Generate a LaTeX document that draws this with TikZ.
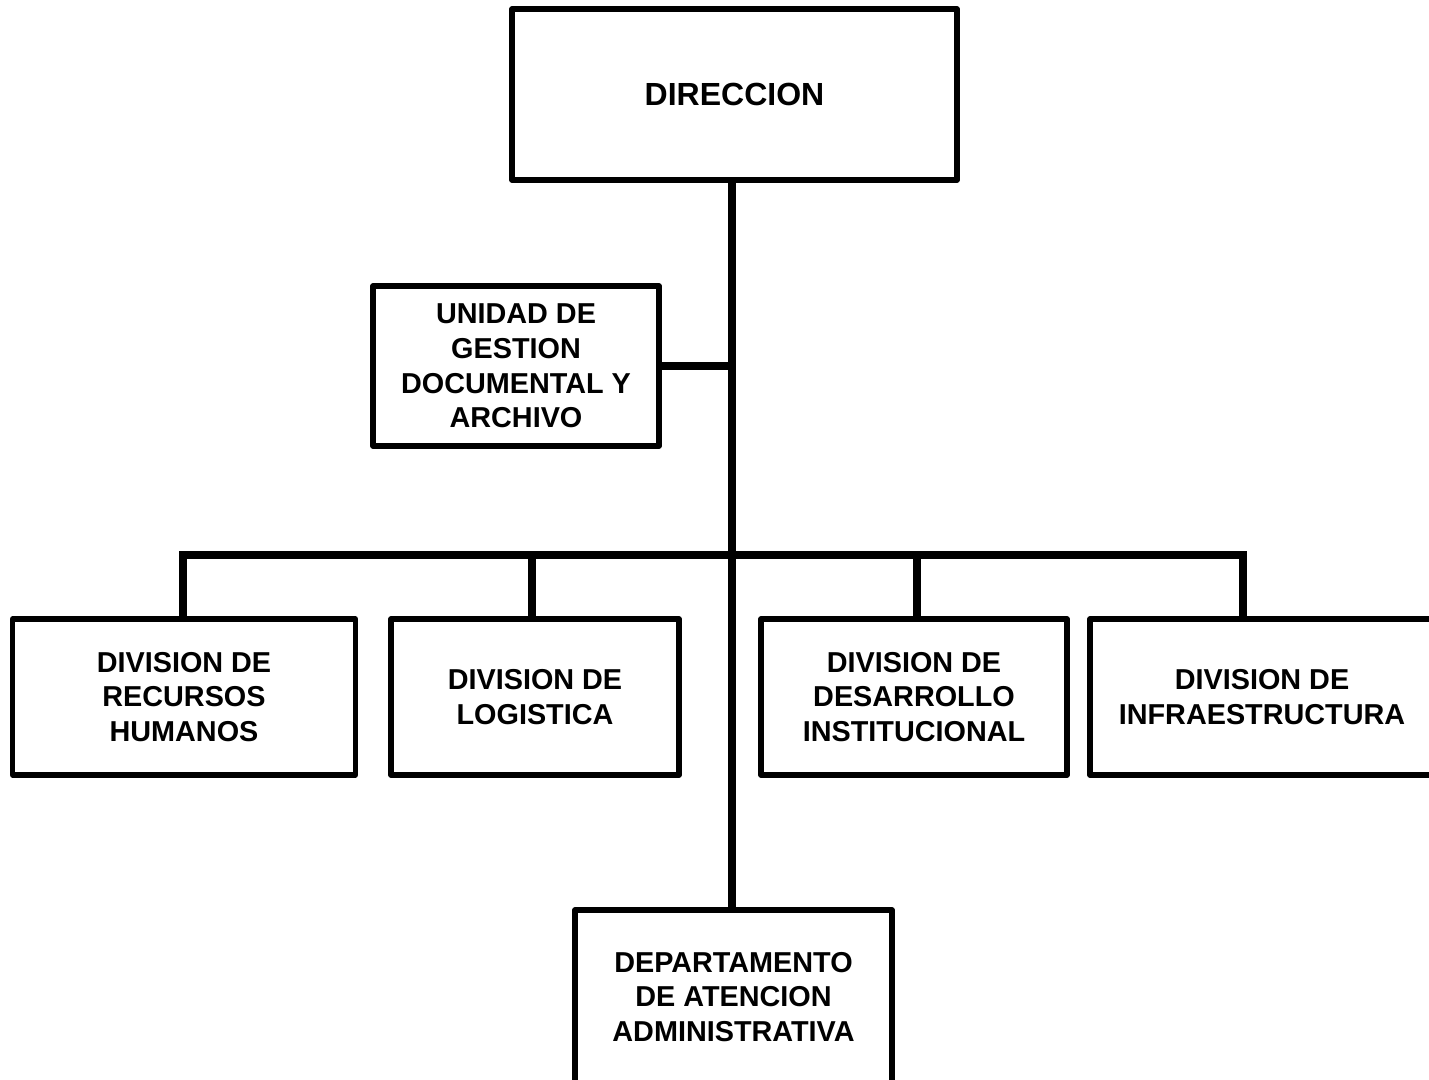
\documentclass[tikz,border=0pt]{standalone}
\usepackage{fontspec}
\setmainfont{Liberation Sans}
\begin{document}
\begin{tikzpicture}[x=0.5pt,y=-0.5pt,
  box/.style={draw=black,line width=2.6pt,line join=round,rectangle,inner sep=0pt,outer sep=0pt,
    align=center,font=\fontsize{14.4}{17.3}\selectfont\bfseries},
  conn/.style={draw=black,line width=4.2pt,line join=miter,line cap=butt}]
\useasboundingbox (0,0) rectangle (1429,1080);
\clip (0,0) rectangle (1429,1080);
\fill[white] (0,0) rectangle (1429,1080);
% nodes
\node[box,minimum width=222.5pt,minimum height=85.5pt,font=\fontsize{16}{19}\selectfont\bfseries] (dir) at (734.5,94.5) {DIRECCION};
\node[box,minimum width=143pt,minimum height=80pt] (uni) at (516,366) {UNIDAD DE\\GESTION\\DOCUMENTAL Y\\ARCHIVO};
\node[box,minimum width=171.5pt,minimum height=78pt] (rrhh) at (184,697) {DIVISION DE\\RECURSOS\\HUMANOS};
\node[box,minimum width=144pt,minimum height=78pt] (log) at (535,697) {DIVISION DE\\LOGISTICA};
\node[box,minimum width=153pt,minimum height=78pt] (des) at (914,697) {DIVISION DE\\DESARROLLO\\INSTITUCIONAL};
\node[box,minimum width=172pt,minimum height=78pt] (inf) at (1262,697) {DIVISION DE\\INFRAESTRUCTURA};
\node[box,minimum width=158.5pt,minimum height=87pt] (dep) at (733.5,997) {DEPARTAMENTO\\DE ATENCION\\ADMINISTRATIVA};
% helper coordinates
\coordinate (sp) at (732,0);
\coordinate (d1) at (183,555);
\coordinate (d2) at (532,555);
\coordinate (d3) at (917,555);
\coordinate (d4) at (1243,555);
% connectors
\draw[conn] (dir.south -| sp) -- (dep.north -| sp);
\draw[conn] (uni.east) -- (uni.east -| sp);
\draw[conn] (rrhh.north -| d1) -- (d1) -- (d4) -- (inf.north -| d4);
\draw[conn] (d2) -- (log.north -| d2);
\draw[conn] (d3) -- (des.north -| d3);
\end{tikzpicture}
\end{document}
